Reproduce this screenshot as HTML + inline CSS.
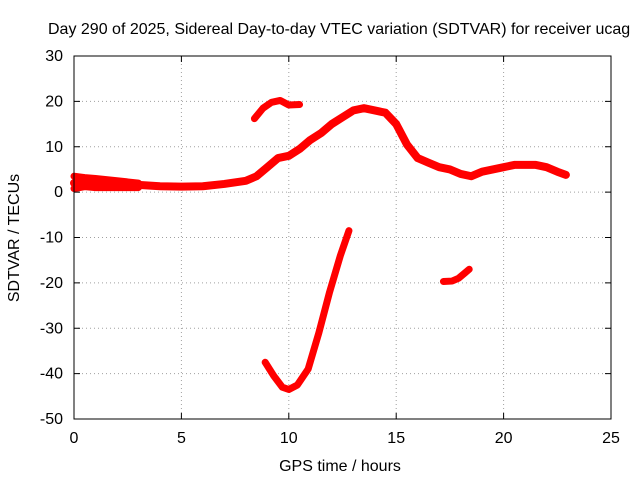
<!DOCTYPE html>
<html><head><meta charset="utf-8"><style>
body{margin:0;background:#fff}
svg text{font-family:"Liberation Sans",sans-serif;font-size:14px;fill:#000}
svg text.big{font-size:16px}
</style></head><body>
<svg width="640" height="480">
<rect width="640" height="480" fill="#fff"/>
<g id="grid"></g><g id="series"></g><g id="axes"></g>
</svg>
<script>
const xTicks=[0,5,10,15,20,25];
const yTicks=[-50,-40,-30,-20,-10,0,10,20,30];
const mainX=[0,0.5,1,2,3,4,5,6,7,8,8.5,9,9.5,10,10.5,11,11.5,12,12.5,13,13.5,14,14.5,15,15.5,16,16.5,17,17.5,18,18.5,19,19.5,20,20.5,21,21.5,22,22.5,22.9];
const mainY=[2,2,2,1.8,1.6,1.3,1.2,1.3,1.8,2.5,3.5,5.5,7.5,8,9.5,11.5,13,15,16.5,18,18.5,18,17.5,15,10.5,7.5,6.5,5.5,5,4,3.5,4.5,5,5.5,6,6,6,5.5,4.5,3.8];
const bandX=[0,0.5,1,2,3];
const bandY=[0.8,1.2,1,1,1];
const bandTopY=[3.5,3.2,3,2.5,2];
const arcX=[8.4,8.8,9.2,9.6,10,10.5];
const arcY=[16.2,18.5,19.8,20.2,19.2,19.3];
const dipX=[8.9,9.3,9.7,10,10.4,10.9,11.4,11.9,12.4,12.8];
const dipY=[-37.5,-40.5,-43,-43.5,-42.5,-39,-31,-22,-14,-8.5];
const smallX=[17.2,17.6,17.9,18.2,18.4];
const smallY=[-19.7,-19.6,-19,-17.8,-17];
const X=v=>74+v*(611-74)/25;
const Y=v=>419-(v+50)*(419-56)/80;
const NS="http://www.w3.org/2000/svg";
function mk(t,a,p){const e=document.createElementNS(NS,t);for(const k in a)e.setAttribute(k,a[k]);p.appendChild(e);return e;}
const grid=document.getElementById('grid'),axes=document.getElementById('axes'),ser=document.getElementById('series');
xTicks.forEach(v=>{
 if(v>0&&v<25){const l=mk('line',{x1:X(v),x2:X(v),y1:56,y2:419,stroke:'#a0a0a0','stroke-dasharray':'1,3'},grid);
 
 }
 const t=mk('text',{x:X(v),y:443,'text-anchor':'middle',class:'big'},axes);t.textContent=v;
 
 
 mk('line',{x1:X(v),x2:X(v),y1:419,y2:413,stroke:'#000'},axes);
 mk('line',{x1:X(v),x2:X(v),y1:56,y2:62,stroke:'#000'},axes);
});
yTicks.forEach(v=>{
 if(v>-50&&v<30){const l=mk('line',{x1:74,x2:611,y1:Y(v),y2:Y(v),stroke:'#a0a0a0','stroke-dasharray':'1,3'},grid);
 
 }
 const t=mk('text',{x:63,y:Y(v)+5,'text-anchor':'end',class:'big'},axes);t.textContent=v;
 
 
 mk('line',{x1:74,x2:80,y1:Y(v),y2:Y(v),stroke:'#000'},axes);
 mk('line',{x1:611,x2:605,y1:Y(v),y2:Y(v),stroke:'#000'},axes);
});
const fr=mk('rect',{x:74,y:56,width:537,height:363,fill:'none',stroke:'#000'},axes);


function line(xs,ys,name,w){
 const p=mk('polyline',{points:xs.map((x,i)=>X(x)+','+Y(ys[i])).join(' '),fill:'none',stroke:'#f00','stroke-width':w,'stroke-linejoin':'round','stroke-linecap':'round'},ser);
 
 
}
line(mainX,mainY,'sdtvar-main-series',8);
line(bandX,bandY,'sdtvar-band-lower',7);
line(bandX,bandTopY,'sdtvar-band-upper',7);
line(arcX,arcY,'sdtvar-arc-series',7);
line(dipX,dipY,'sdtvar-dip-series',7);
line(smallX,smallY,'sdtvar-small-series',7);
function txt(s,a,name){const t=mk('text',a,axes);t.textContent=s;
 
 return t;}
txt('Day 290 of 2025, Sidereal Day-to-day VTEC variation (SDTVAR) for receiver ucag',{x:48,y:34,'text-anchor':'start',class:'big'},'chart-title');
txt('GPS time / hours',{x:340,y:471,'text-anchor':'middle',class:'big'},'x-axis-title');
txt('SDTVAR / TECUs',{x:19,y:238,'text-anchor':'middle',class:'big',transform:'rotate(-90 19 238)'},'y-axis-title');
</script>
</body></html>
